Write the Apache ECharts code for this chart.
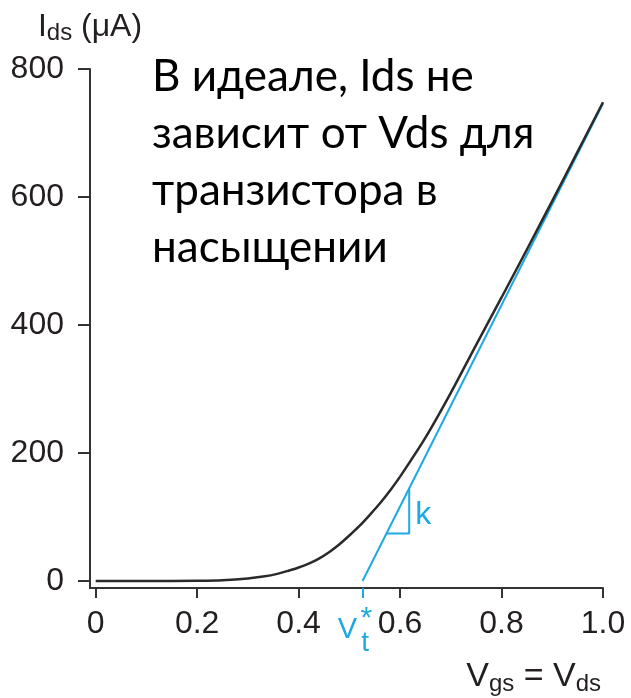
<!DOCTYPE html>
<html>
<head>
<meta charset="utf-8">
<script src="https://cdn.jsdelivr.net/npm/echarts@6/dist/echarts.min.js"></script>
<style>
html,body{margin:0;padding:0;background:#fff;}
#chart{width:631px;height:698px;}
</style>
</head>
<body>
<div id="chart"></div>
<script>
// ---- data ----
const vgs = [0, 0.1, 0.2, 0.25, 0.3, 0.33, 0.36, 0.38, 0.4, 0.42, 0.44, 0.46, 0.48, 0.5, 0.52, 0.54, 0.56, 0.58, 0.6, 0.65, 0.7, 0.75, 0.8, 0.85, 0.9, 0.95, 1.0];
const ids = [0, 0, 0.4, 1.2, 3.8, 6.8, 11.5, 16, 21, 27, 35, 45, 57, 71, 86, 103, 121, 141, 163, 224, 294, 369, 443, 518, 594, 671, 748];
const tangentV = [0.526, 1.0];
const tangentI = [0, 746];
const kTriV = [0.573, 0.618, 0.618];
const kTriI = [74, 74, 145];
const xTicks = [0, 0.2, 0.4, 0.6, 0.8, 1.0];
const xTickLabels = ['0', '0.2', '0.4', '0.6', '0.8', '1.0'];
const yTicks = [0, 200, 400, 600, 800];
const yTickLabels = ['0', '200', '400', '600', '800'];
const vtValue = 0.526;
const noteText = ['В идеале, Ids не', 'зависит от Vds для', 'транзистора в', 'насыщении'];

// ---- styles ----
const AX = '#333333';
const TXT = '#231f20';
const BLUE = '#1ea8e4';
const FONT = '"Liberation Sans", Arial, sans-serif';

const chart = echarts.init(document.getElementById('chart'), null, {renderer: 'canvas'});
const curve = vgs.map((v, i) => [v, ids[i]]);
const tangent = tangentV.map((v, i) => [v, tangentI[i]]);
const tri = kTriV.map((v, i) => [v, kTriI[i]]);

const option = {
  animation: false,
  backgroundColor: '#ffffff',
  title: {
    text: noteText.join('\n'),
    left: 152, top: 48, padding: 0,
    textStyle: {fontFamily: 'Lato', fontSize: 44, fontWeight: 'normal', color: '#000', lineHeight: 57}
  },
  grid: {left: 90, right: 28, top: 69, bottom: 110, outerBoundsMode: 'none', containLabel: false},
  xAxis: [{
    type: 'value', min: -0.0112, max: 1.0, position: 'bottom',
    splitLine: {show: false},
    axisLine: {show: true, onZero: false, lineStyle: {color: AX, width: 2}},
    axisTick: {show: true, customValues: xTicks, length: 10, lineStyle: {color: AX, width: 2}},
    axisLabel: {customValues: xTicks, margin: 20, fontFamily: FONT, fontSize: 32, color: TXT,
      formatter: v => xTickLabels[xTicks.findIndex(t => Math.abs(t - v) < 1e-6)]},
    name: '{a|V}{b|gs}{a| = V}{b|ds}', nameLocation: 'end', nameGap: -2,
    nameTextStyle: {align: 'right', verticalAlign: 'top', padding: [69, 0, 0, 0],
      rich: {a: {fontFamily: FONT, fontSize: 34, color: TXT, lineHeight: 40},
             b: {fontFamily: FONT, fontSize: 24, color: TXT, lineHeight: 40, padding: [14, 0, 0, 0]}}}
  }, {
    type: 'value', min: -0.0112, max: 1.0, position: 'bottom',
    splitLine: {show: false},
    axisLine: {show: false, onZero: false},
    axisTick: {show: true, customValues: [vtValue], length: 10, lineStyle: {color: BLUE, width: 2}},
    axisLabel: {customValues: [vtValue], margin: 27, padding: [0, 15, 0, 0],
      formatter: () => '{v|V}{t|t}{s|*}',
      rich: {
        v: {fontFamily: FONT, fontSize: 29, color: BLUE, lineHeight: 28},
        t: {fontFamily: FONT, fontSize: 28, color: BLUE, lineHeight: 28, padding: [26.6, 0, 0, 4]},
        s: {fontFamily: FONT, fontSize: 30, color: BLUE, lineHeight: 30, padding: [0, 0, 23.4, -8.3]}
      }}
  }],
  yAxis: {
    type: 'value', min: -11, max: 800,
    splitLine: {show: false},
    axisLine: {show: true, onZero: false, lineStyle: {color: AX, width: 2}},
    axisTick: {show: true, customValues: yTicks, length: 12, lineStyle: {color: AX, width: 2}},
    axisLabel: {customValues: yTicks, margin: 26, fontFamily: FONT, fontSize: 32, color: TXT,
      formatter: v => yTickLabels[yTicks.indexOf(v)]},
    name: '{a|I}{b|ds}{a| (μA)}', nameLocation: 'end', nameGap: 24,
    nameTextStyle: {align: 'center',
      rich: {a: {fontFamily: FONT, fontSize: 32, color: TXT, lineHeight: 36},
             b: {fontFamily: FONT, fontSize: 24, color: TXT, lineHeight: 36, padding: [12, 0, 0, 0]}}}
  },
  series: [{
    type: 'line', data: curve, smooth: 0.3, symbol: 'none', clip: false,
    lineStyle: {color: '#2a2a2a', width: 2.5}, z: 3
  }, {
    type: 'line', data: tangent, symbol: 'none', clip: false,
    lineStyle: {color: BLUE, width: 2}, z: 2
  }, {
    type: 'line', data: tri, symbol: 'none', clip: false,
    lineStyle: {color: BLUE, width: 2}, z: 2,
    markPoint: {
      symbol: 'circle', symbolSize: 0,
      label: {show: true, position: 'right', distance: 6, offset: [0, 4], formatter: 'k', fontFamily: FONT, fontSize: 32, color: BLUE},
      data: [{coord: [kTriV[1], (kTriI[1] + kTriI[2]) / 2]}]
    }
  }]
};
chart.setOption(option);
</script>
</body>
</html>
